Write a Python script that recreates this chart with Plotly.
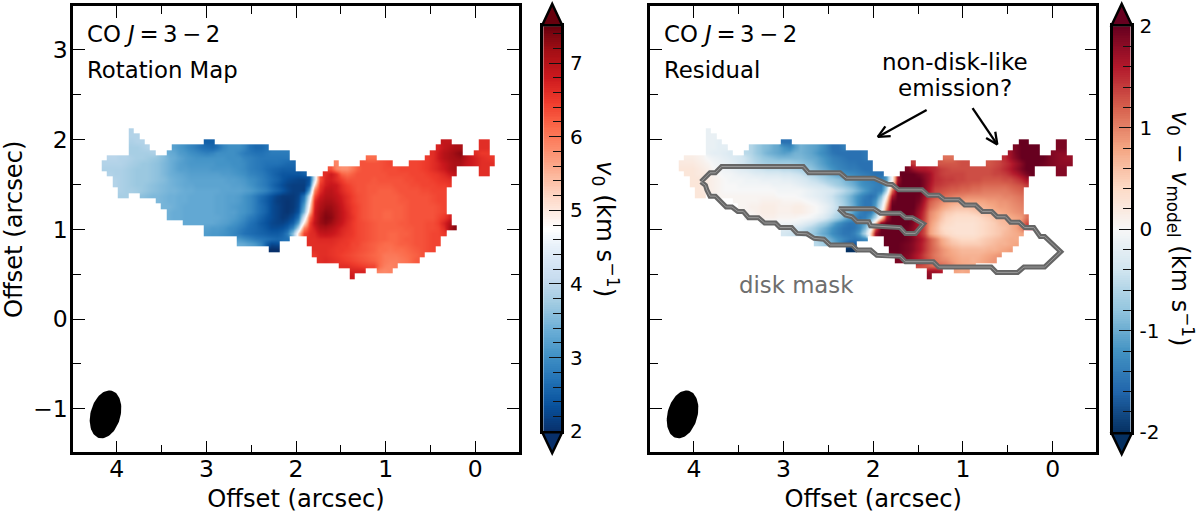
import math
import numpy as np
import plotly.graph_objects as go

# --- Data ------------------------------------------------------------------
# Each entry: (row, first column, values). Rows run top to bottom, columns left to right.
V0_SEGMENTS = [
 (0,5,[3.9]),
 (1,5,[3.9,3.9]),
 (2,5,[3.85,3.9,3.9]),(2,19,[2.5,2.5]),(2,63,[6.9,6.9]),(2,70,[6.6,6.6]),
 (3,5,[3.8,3.8,3.85,3.9]),(3,13,[3.2,3.1,3.0,2.9,2.8,2.7,2.65,2.6,2.7,2.9,3.0,3.0,3.0,2.9,2.7,2.6,2.6,2.7]),(3,62,[6.7,6.9,7.0,7.1,7.1]),(3,70,[6.6,6.6]),
 (4,5,[3.8,3.8,3.8,3.8,3.85]),(4,12,[3.35,3.3,3.15,3.1,3.0,2.95,2.9,2.85,2.9,3.0,3.0,3.0,3.0,2.9,2.8,2.75,2.7,2.7,2.75,2.8,2.8,2.8,2.8]),(4,61,[6.6,6.8,7.0,7.1,7.2,7.3]),(4,69,[6.6,6.5,6.5]),
 (5,1,[3.95,3.95,3.9,3.9,3.85,3.8,3.8,3.75,3.7,3.65,3.55,3.4,3.35,3.25,3.15,3.1,3.05,3.05,3.05,3.05,3.05,3.05,3.0,3.0,3.0,2.9,2.85,2.8,2.75,2.75,2.75,2.75,2.75,2.75]),(5,49,[6.1,6.1]),(5,60,[6.5,6.6,6.8,7.0,7.1,7.15,7.2,7.0,6.8,6.7,6.6,6.55,6.5]),
 (6,0,[3.9,3.9,3.9,3.9,3.85,3.8,3.75,3.7,3.7,3.65,3.6,3.5,3.4,3.3,3.2,3.15,3.1,3.1,3.1,3.1,3.1,3.05,3.05,3.05,3.0,3.0,2.95,2.85,2.8,2.75,2.7,2.7,2.7,2.65,2.6,2.6]),(6,43,[5.9]),(6,48,[6.3,6.3,6.3,6.3,6.35,6.4]),(6,57,[6.4,6.4,6.45,6.5,6.6,6.7,6.85,7.0,7.1,7.1,6.9,6.8,6.7,6.6,6.6,6.6]),
 (7,0,[3.85,3.85,3.85,3.85,3.8,3.75,3.7,3.7,3.7,3.65,3.6,3.5,3.4,3.3,3.2,3.2,3.15,3.15,3.15,3.15,3.1,3.1,3.1,3.1,3.05,3.0,2.95,2.85,2.8,2.75,2.65,2.6,2.55,2.5,2.5,2.5]),(7,42,[6.3,5.9,5.8,5.8,6.0,6.2,6.3,6.3,6.3,6.3,6.35,6.35,6.35,6.4,6.4,6.4,6.4,6.45,6.5,6.6,6.7,6.8,7.0,7.1]),(7,70,[6.6,6.6]),
 (8,1,[3.9,3.85,3.85,3.8,3.75,3.7,3.7,3.7,3.65,3.6,3.5,3.4,3.35,3.3,3.25,3.2,3.2,3.2,3.2,3.2,3.2,3.15,3.15,3.1,3.05,3.0,2.9,2.85,2.8,2.7,2.6,2.5,2.4,2.4,2.4,2.4,2.5]),(8,41,[6.6,6.8,6.6,6.2,6.1,6.2,6.3,6.3,6.3,6.3,6.3,6.3,6.35,6.35,6.35,6.35,6.4,6.4,6.4,6.45,6.5,6.55,6.65,6.8,6.9]),(8,70,[6.6,6.6]),
 (9,2,[3.9,3.85,3.8,3.75,3.7,3.7,3.7,3.65,3.6,3.55,3.45,3.4,3.35,3.3,3.25,3.25,3.25,3.25,3.25,3.25,3.25,3.2,3.2,3.15,3.1,3.0,2.95,2.85,2.75,2.65,2.55,2.4,2.3,2.25,2.2,2.2,2.35,4.2,6.3,6.7,6.75,6.6,6.45,6.3,6.3,6.3,6.3,6.3,6.25,6.3,6.3,6.3,6.3,6.3,6.35,6.35,6.4,6.4,6.4,6.45,6.5,6.55,6.6]),
 (10,2,[3.9,3.85,3.8,3.75,3.7,3.7,3.65,3.6,3.55,3.5,3.45,3.4,3.35,3.3,3.3,3.25,3.25,3.25,3.25,3.25,3.25,3.25,3.2,3.2,3.15,3.05,2.95,2.85,2.75,2.6,2.45,2.3,2.2,2.15,2.15,2.15,2.5,5.0,6.5,6.75,6.85,6.8,6.6,6.45,6.35,6.3,6.3,6.25,6.25,6.25,6.25,6.25,6.3,6.3,6.3,6.35,6.35,6.4,6.4,6.4,6.45,6.45,6.5]),
 (11,3,[3.85,3.8,3.8,3.75,3.7,3.65,3.6,3.55,3.5,3.45,3.45,3.4,3.35,3.35,3.3,3.3,3.3,3.3,3.3,3.25,3.25,3.25,3.25,3.2,3.15,3.05,2.95,2.85,2.7,2.55,2.4,2.25,2.15,2.15,2.15,3.2,5.9,6.6,6.9,6.95,6.8,6.65,6.5,6.4,6.3,6.3,6.25,6.25,6.2,6.2,6.2,6.25,6.3,6.3,6.3,6.3,6.35,6.35,6.4,6.4,6.4]),
 (12,3,[3.8,3.8]),(12,7,[3.6,3.55,3.5,3.5,3.45,3.4,3.4,3.35,3.35,3.3,3.3,3.3,3.3,3.3,3.25,3.25,3.2,3.2,3.15,3.05,2.95,2.8,2.65,2.5,2.35,2.2,2.1,2.1,2.1,2.2,2.7,4.2,6.3,6.8,7.0,7.0,6.9,6.75,6.6,6.45,6.35,6.3,6.25,6.2,6.2,6.2,6.2,6.2,6.25,6.3,6.3,6.3,6.3,6.3,6.35,6.4,6.4]),
 (13,10,[3.5,3.45,3.4,3.4,3.35,3.35,3.3,3.3,3.3,3.3,3.3,3.25,3.25,3.2,3.2,3.15,3.05,2.95,2.8,2.6,2.45,2.3,2.15,2.1,2.05,2.1,2.25,2.9,4.6,6.6,6.95,7.1,7.1,6.95,6.8,6.6,6.45,6.35,6.3,6.25,6.2,6.2,6.2,6.2,6.2,6.25,6.25,6.3,6.3,6.3,6.3,6.35,6.4,6.4]),
 (14,11,[3.45,3.45,3.4,3.35,3.3,3.3,3.3,3.3,3.3,3.3,3.25,3.25,3.2,3.15,3.1,3.05,2.95,2.8,2.65,2.5,2.3,2.2,2.1,2.05,2.1,2.3,3.2,5.0,6.7,7.05,7.2,7.2,7.05,6.85,6.65,6.5,6.4,6.3,6.25,6.2,6.2,6.2,6.2,6.2,6.2,6.25,6.3,6.3,6.3,6.3,6.3,6.35,6.4]),
 (15,12,[3.4,3.35,3.35,3.3,3.3,3.3,3.3,3.3,3.3,3.25,3.25,3.2,3.2,3.1,3.05,2.95,2.8,2.65,2.5,2.3,2.2,2.1,2.05,2.15,2.4,3.5,5.4,6.8,7.15,7.3,7.25,7.1,6.9,6.7,6.5,6.4,6.3,6.25,6.2,6.2,6.15,6.15,6.2,6.2,6.25,6.3,6.3,6.3,6.3,6.3,6.35,6.4]),
 (16,12,[3.4,3.35,3.35,3.3,3.3,3.3,3.3,3.3,3.3,3.3,3.25,3.2,3.15,3.05,2.95,2.8,2.7,2.55,2.4,2.3,2.2,2.1,2.15,2.3,2.7,4.3,6.1,6.8,7.2,7.35,7.3,7.1,6.9,6.7,6.55,6.4,6.3,6.25,6.2,6.2,6.15,6.15,6.2,6.2,6.25,6.3,6.3,6.3,6.3,6.3,6.4,6.5,6.7]),
 (17,15,[3.3,3.3,3.3,3.3,3.3,3.3,3.25,3.2,3.15,3.05,2.95,2.85,2.7,2.6,2.45,2.35,2.25,2.2,2.2,2.3,2.5,3.2,5.0,6.4,6.9,7.2,7.3,7.2,7.0,6.85,6.65,6.5,6.4,6.35,6.3,6.25,6.2,6.2,6.2,6.2,6.25,6.25,6.3,6.3,6.3,6.35,6.35,6.45,6.7,7.0]),
 (18,19,[3.2,3.15,3.15,3.1,3.0,2.95,2.85,2.75,2.65,2.6,2.5,2.4,2.3,2.3,2.35,2.5,2.9,4.0,5.9,6.5,6.75,7.05,7.1,7.0,6.85,6.7,6.6,6.5,6.4,6.35,6.3,6.25,6.2,6.2,6.2,6.2,6.2,6.25,6.25,6.3,6.3,6.35,6.35,6.4,6.6,7.1,7.3]),
 (19,19,[3.15,3.1,3.1,3.05,3.0,2.9,2.8,2.7,2.65,2.6,2.55,2.5,2.45,2.45,2.55,2.8,3.6,5.2,6.4,6.6,6.65,6.85,6.9,6.85,6.75,6.65,6.55,6.5,6.4,6.35,6.3,6.25,6.2,6.2,6.15,6.15,6.2,6.2,6.25,6.3,6.3,6.35,6.4,6.4,6.5]),
 (20,25,[3.1,3.0,2.9,2.8,2.75,2.7,2.65,2.6,2.65,2.7]),(20,38,[6.6,6.6,6.65,6.65,6.65,6.6,6.55,6.5,6.45,6.4,6.35,6.3,6.25,6.2,6.2,6.15,6.15,6.2,6.25,6.25,6.3,6.3,6.35,6.4,6.4]),
 (21,25,[3.35,3.3,3.2,3.1,2.9,2.5,2.25,2.3]),(21,38,[6.6,6.6,6.6,6.6,6.6,6.55,6.5,6.5,6.4,6.4,6.3,6.25,6.2,6.15,6.1,6.1,6.15,6.2,6.2,6.25,6.3,6.3,6.35,6.4,6.4]),
 (22,31,[2.0,2.0]),(22,39,[6.6,6.6,6.6,6.55,6.5,6.5,6.45,6.4,6.35,6.3,6.25,6.2,6.1,6.1,6.05,6.1,6.1,6.15,6.2,6.25,6.3,6.35,6.4]),
 (23,39,[6.5,6.6,6.6,6.55,6.5,6.45,6.4,6.35,6.3,6.25,6.2,6.15,6.1,6.0,6.0,6.0,6.05,6.1,6.15,6.2,6.3]),
 (24,40,[6.6,6.65,6.6,6.55,6.5,6.45,6.4,6.35,6.3,6.25,6.2,6.1,6.0,5.95,5.95,6.0,6.05,6.15,6.25]),
 (25,44,[6.6,6.6,6.55,6.5,6.45,6.4,6.4,6.1,5.95,5.9,5.95]),
 (26,46,[6.7,6.7,6.7]),(26,51,[5.9,5.85,5.9]),
 (27,46,[6.8]),
]

RES_SEGMENTS = [
 (0,5,[-0.15]),
 (1,5,[-0.15,-0.15]),
 (2,5,[-0.15,-0.15,-0.2]),(2,19,[-1.5,-1.5]),(2,63,[2,2]),(2,70,[1.9,1.9]),
 (3,5,[-0.15,-0.15,-0.2,-0.2]),(3,13,[-0.6,-0.75,-0.85,-0.9,-1.0,-1.05,-1.2,-1.3,-1.1,-0.95,-1.0,-1.05,-1.1,-1.2,-1.35,-1.5,-1.5,-1.4]),(3,62,[1.9,2,2,2,2]),(3,70,[1.9,1.9]),
 (4,5,[-0.15,-0.2,-0.2,-0.25,-0.3]),(4,12,[-0.55,-0.6,-0.75,-0.85,-0.95,-1.0,-1.05,-1.1,-1.05,-0.95,-0.95,-1.0,-1.05,-1.15,-1.25,-1.35,-1.45,-1.5,-1.5,-1.5,-1.5,-1.5,-1.45]),(4,61,[1.7,1.9,2,2,2,2]),(4,69,[1.85,1.8,1.8]),
 (5,1,[0.15,0.15,0.1,0.05,-0.05,-0.1,-0.15,-0.2,-0.25,-0.3,-0.35,-0.45,-0.55,-0.65,-0.75,-0.8,-0.85,-0.9,-0.9,-0.9,-0.9,-0.9,-0.95,-1.0,-1.05,-1.15,-1.25,-1.35,-1.4,-1.45,-1.5,-1.5,-1.5,-1.45]),(5,49,[1.1,1.1]),(5,60,[1.5,1.7,1.85,2,2,2,2,2,1.9,1.85,1.8,1.75,1.75]),
 (6,0,[0.2,0.2,0.2,0.15,0.1,0.05,-0.05,-0.1,-0.15,-0.2,-0.25,-0.35,-0.45,-0.5,-0.6,-0.65,-0.7,-0.7,-0.7,-0.7,-0.7,-0.75,-0.8,-0.85,-0.9,-1.0,-1.1,-1.2,-1.3,-1.35,-1.4,-1.45,-1.45,-1.5,-1.5,-1.5]),(6,43,[1.4]),(6,48,[1.25,1.25,1.25,1.25,1.3,1.3]),(6,57,[1.25,1.3,1.35,1.45,1.55,1.7,1.85,2,2,2,1.95,1.9,1.85,1.8,1.8,1.8]),
 (7,0,[0.25,0.25,0.25,0.2,0.15,0.1,0.0,-0.05,-0.1,-0.15,-0.2,-0.25,-0.3,-0.35,-0.4,-0.45,-0.5,-0.5,-0.5,-0.55,-0.55,-0.6,-0.65,-0.7,-0.8,-0.9,-1.0,-1.1,-1.2,-1.3,-1.35,-1.4,-1.4,-1.45,-1.5,-1.5]),(7,42,[1.9,1.7,1.6,1.6,1.55,1.5,1.4,1.35,1.3,1.3,1.3,1.3,1.3,1.3,1.3,1.3,1.35,1.4,1.5,1.6,1.75,1.9,2,2]),(7,70,[1.85,1.85]),
 (8,1,[0.25,0.25,0.2,0.2,0.15,0.05,0.0,-0.05,-0.05,-0.1,-0.15,-0.15,-0.2,-0.25,-0.25,-0.3,-0.3,-0.3,-0.35,-0.35,-0.4,-0.45,-0.55,-0.6,-0.7,-0.8,-0.9,-1.0,-1.1,-1.2,-1.25,-1.3,-1.35,-1.4,-1.45,-1.5,-1.5]),(8,41,[2,2,2,1.9,1.8,1.7,1.5,1.4,1.35,1.35,1.35,1.35,1.3,1.3,1.3,1.3,1.3,1.35,1.35,1.4,1.5,1.6,1.75,1.9,2]),(8,70,[1.85,1.85]),
 (9,2,[0.25,0.25,0.2,0.15,0.1,0.05,0.0,-0.05,-0.05,-0.05,-0.1,-0.1,-0.1,-0.15,-0.15,-0.15,-0.15,-0.2,-0.2,-0.25,-0.3,-0.35,-0.45,-0.5,-0.6,-0.7,-0.75,-0.8,-0.9,-1.0,-1.1,-1.2,-1.3,-1.35,-1.4,-1.4,-1.1,0.0,1.7,2,2,2,2,1.85,1.7,1.5,1.45,1.4,1.4,1.35,1.35,1.3,1.3,1.3,1.25,1.25,1.25,1.25,1.3,1.3,1.4,1.5,1.65]),
 (10,2,[0.25,0.25,0.2,0.15,0.1,0.05,0.0,0.0,0.0,-0.05,-0.05,-0.05,-0.05,-0.05,-0.05,-0.1,-0.1,-0.1,-0.1,-0.15,-0.2,-0.25,-0.3,-0.35,-0.4,-0.5,-0.6,-0.7,-0.8,-0.9,-1.0,-1.15,-1.25,-1.3,-1.35,-1.4,-0.9,0.4,1.9,2,2,2,2,1.85,1.65,1.45,1.4,1.35,1.3,1.3,1.25,1.25,1.2,1.2,1.15,1.15,1.15,1.15,1.15,1.2,1.25,1.3,1.4]),
 (11,3,[0.25,0.2,0.15,0.1,0.05,0.0,0.0,0.0,0.0,0.0,0.0,0.0,0.0,0.0,0.0,-0.05,-0.05,-0.05,-0.05,-0.05,-0.1,-0.15,-0.2,-0.25,-0.3,-0.35,-0.45,-0.55,-0.7,-0.85,-1.0,-1.15,-1.3,-1.4,-1.35,-0.6,1.1,2,2,2,2,2,1.8,1.6,1.35,1.3,1.25,1.2,1.2,1.15,1.15,1.1,1.1,1.05,1.05,1.05,1.05,1.05,1.1,1.15,1.2]),
 (12,3,[0.25,0.25]),(12,7,[0.05,0.05,0.05,0.05,0.05,0.05,0.05,0.05,0.05,0.05,0.05,0.0,0.0,0.0,0.0,-0.05,-0.1,-0.15,-0.2,-0.25,-0.35,-0.45,-0.6,-0.75,-0.9,-1.1,-1.25,-1.4,-1.5,-1.4,-0.9,0.1,1.6,2,2,2,2,1.95,1.7,1.45,1.3,1.2,1.1,1.05,1.0,1.0,0.95,0.95,0.95,0.95,0.95,0.95,0.95,1.0,1.0,1.05,1.1]),
 (13,10,[0.05,0.05,0.05,0.05,0.05,0.1,0.1,0.1,0.1,0.05,0.05,0.05,0.05,0.0,-0.05,-0.1,-0.2,-0.3,-0.4,-0.55,-0.7,-0.9,-1.1,-1.3,-1.45,-1.45,-1.2,-0.6,0.5,1.9,2,2,2,2,1.9,1.6,1.25,1.1,1.0,0.9,0.85,0.8,0.8,0.8,0.8,0.8,0.8,0.85,0.85,0.9,0.9,0.95,1.0,1.05]),
 (14,11,[0.05,0.05,0.1,0.1,0.15,0.15,0.15,0.1,0.1,0.1,0.15,0.15,0.1,0.05,0.0,-0.1,-0.2,-0.35,-0.5,-0.65,-0.85,-1.05,-1.3,-1.45,-1.45,-1.1,-0.4,0.9,2,2,2,2,2,1.8,1.5,1.15,1.0,0.85,0.75,0.65,0.6,0.6,0.6,0.65,0.7,0.7,0.75,0.8,0.85,0.85,0.9,0.95,1.0]),
 (15,12,[0.05,0.05,0.1,0.15,0.15,0.15,0.1,0.1,0.1,0.15,0.15,0.1,0.05,0.0,-0.1,-0.25,-0.4,-0.55,-0.7,-0.9,-1.15,-1.35,-1.45,-1.4,-1.0,-0.2,1.3,2,2,2,2,1.95,1.7,1.4,1.0,0.85,0.7,0.55,0.5,0.45,0.45,0.45,0.5,0.55,0.6,0.65,0.7,0.75,0.8,0.85,0.9,0.95]),
 (16,12,[0.0,0.0,0.05,0.1,0.1,0.1,0.05,0.05,0.05,0.05,0.0,0.0,-0.05,-0.15,-0.25,-0.4,-0.55,-0.7,-0.9,-1.1,-1.3,-1.45,-1.4,-1.1,-0.6,0.3,1.6,2,2,2,2,1.9,1.65,1.35,0.95,0.8,0.6,0.45,0.4,0.35,0.35,0.35,0.35,0.4,0.45,0.5,0.6,0.65,0.7,0.75,0.8,0.85,1.1]),
 (17,15,[-0.05,-0.05,-0.05,-0.05,-0.05,-0.05,-0.1,-0.15,-0.25,-0.35,-0.5,-0.65,-0.8,-1.0,-1.2,-1.35,-1.45,-1.45,-1.3,-1.1,-0.6,0.5,1.8,2,2,2,2,2,1.85,1.6,1.3,0.9,0.7,0.5,0.4,0.35,0.3,0.3,0.3,0.3,0.35,0.4,0.45,0.5,0.6,0.65,0.7,0.8,1.0,1.3]),
 (18,19,[-0.25,-0.3,-0.35,-0.4,-0.5,-0.6,-0.75,-0.9,-1.05,-1.2,-1.35,-1.45,-1.5,-1.45,-1.3,-0.9,-0.1,1.2,1.95,2,2,2,2,1.95,1.8,1.6,1.3,0.85,0.65,0.45,0.35,0.3,0.3,0.3,0.3,0.3,0.35,0.4,0.45,0.5,0.55,0.6,0.7,0.8,1.0,1.5,1.8]),
 (19,19,[-0.35,-0.4,-0.45,-0.5,-0.6,-0.7,-0.85,-1.0,-1.1,-1.25,-1.35,-1.45,-1.45,-1.35,-1.1,-0.6,0.4,1.7,2,2,2,2,2,1.9,1.75,1.55,1.3,0.85,0.65,0.5,0.4,0.35,0.3,0.3,0.3,0.3,0.35,0.4,0.45,0.5,0.55,0.65,0.7,0.75,0.8]),
 (20,25,[-0.6,-0.75,-0.9,-1.05,-1.2,-1.3,-1.4,-1.45,-1.4,-1.3]),(20,38,[2,2,2,2,1.95,1.85,1.7,1.5,1.25,1.05,0.8,0.65,0.5,0.45,0.4,0.4,0.4,0.45,0.5,0.55,0.6,0.65,0.7,0.75,0.75]),
 (21,25,[-0.55,-0.65,-0.8,-0.95,-1.15,-1.5,-1.75,-1.7]),(21,38,[2,2,2,1.95,1.9,1.8,1.65,1.45,1.25,1.05,0.85,0.7,0.6,0.55,0.5,0.5,0.5,0.5,0.55,0.6,0.65,0.7,0.7,0.75,0.8]),
 (22,31,[-2,-2]),(22,39,[2,2,1.95,1.9,1.8,1.65,1.45,1.25,1.1,0.95,0.85,0.75,0.7,0.65,0.65,0.65,0.65,0.65,0.7,0.7,0.75,0.8,0.85]),
 (23,39,[1.9,1.95,1.9,1.85,1.7,1.55,1.35,1.2,1.05,0.95,0.85,0.8,0.75,0.7,0.7,0.7,0.7,0.75,0.8,0.85,0.9]),
 (24,40,[1.9,1.85,1.8,1.7,1.55,1.4,1.25,1.1,1.0,0.95,0.85,0.8,0.75,0.75,0.7,0.75,0.8,0.85,0.9]),
 (25,44,[1.3,1.25,1.15,1.1,1.2,1.1,1.0,0.85,0.8,0.75,0.75]),
 (26,46,[1.7,1.7,1.6]),(26,51,[0.8,0.75,0.8]),
 (27,46,[1.8]),
]

MASK_X = [3.92,3.82,3.76,3.69,2.78,2.72,2.37,2.30,1.99,1.845,1.79,1.715,1.455,1.39,1.27,1.205,1.045,0.98,0.86,0.785,0.68,0.62,0.525,0.47,0.375,0.31,0.21,0.14,0.09,-0.09,0.09,0.32,0.39,0.625,0.685,1.27,1.33,1.64,1.70,1.83,1.96,2.03,2.18,2.235,2.48,2.55,2.66,2.74,2.85,2.91,3.04,3.09,3.21,3.28,3.39,3.45,3.51,3.575,3.64,3.76,3.82,3.855,3.87,3.92]
MASK_Y = [1.53,1.63,1.63,1.70,1.70,1.63,1.63,1.57,1.57,1.504,1.50,1.44,1.44,1.38,1.38,1.33,1.33,1.27,1.27,1.20,1.20,1.14,1.14,1.08,1.08,1.02,1.02,0.92,0.92,0.75,0.58,0.58,0.52,0.52,0.58,0.58,0.64,0.64,0.70,0.70,0.71,0.77,0.77,0.825,0.825,0.89,0.90,0.95,0.955,1.02,1.02,1.07,1.07,1.13,1.13,1.20,1.20,1.25,1.25,1.37,1.37,1.44,1.49,1.53]
INNER_X = [2.385,1.995,1.92,1.70,1.64,1.565,1.44,1.53,1.64,1.70,2.03,2.05,2.18,2.235,2.31,2.385]
INNER_Y = [1.23,1.23,1.18,1.18,1.13,1.13,1.06,0.955,0.955,1.02,1.04,1.085,1.085,1.14,1.16,1.23]

V0_TICKS = [2, 3, 4, 5, 6, 7]
RES_TICKS = [-2, -1, 0, 1, 2]
RES_TICK_TEXT = ["-2", "-1", "0", "1", "2"]

# --- Grid and style ---------------------------------------------------------
NROWS, NCOLS = 28, 73
GRID_X0, GRID_DX = 4.138, -0.0601
GRID_Y0, GRID_DY = 2.096, -0.06

def grid(segments):
    z = [[None] * NCOLS for _ in range(NROWS)]
    for r, c0, vals in segments:
        for i, v in enumerate(vals):
            if c0 + i < NCOLS:
                z[r][c0 + i] = v
    return z

BLUES_REDS = [[0,"#08306b"],[.0625,"#08519c"],[.125,"#2171b5"],[.1875,"#4292c6"],[.25,"#6baed6"],[.3125,"#9ecae1"],[.375,"#c6dbef"],[.4375,"#deebf7"],[.5,"#ffffff"],
              [.5625,"#fee0d2"],[.625,"#fcbba1"],[.6875,"#fc9272"],[.75,"#fb6a4a"],[.8125,"#ef3b2c"],[.875,"#cb181d"],[.9375,"#a50f15"],[1,"#67000d"]]
RDBU = [[0,"#053061"],[.1,"#2166ac"],[.2,"#4393c3"],[.3,"#92c5de"],[.4,"#d1e5f0"],[.5,"#f7f7f7"],[.6,"#fddbc7"],[.7,"#f4a582"],[.8,"#d6604d"],[.9,"#b2182b"],[1,"#67001f"]]

W, H = 1200, 513
FONT = "DejaVu Sans"
LW = 2.5
def fx(p): return p / W
def fy(p): return 1 - p / H

fig = go.Figure()
common = dict(x0=GRID_X0, dx=GRID_DX, y0=GRID_Y0, dy=GRID_DY, showscale=False, hoverinfo="skip", zsmooth="best")
fig.add_trace(go.Heatmap(z=grid(V0_SEGMENTS), zmin=2, zmax=7.5, colorscale=BLUES_REDS, xaxis="x", yaxis="y", **common))
fig.add_trace(go.Heatmap(z=grid(RES_SEGMENTS), zmin=-2, zmax=2, colorscale=RDBU, xaxis="x2", yaxis="y2", **common))

# mask outline: a wide grey line with a paler core
for xs, ys in ((MASK_X, MASK_Y), (INNER_X, INNER_Y)):
    for color, width in (("#666666", 5), ("#9a9a9a", 1)):
        fig.add_trace(go.Scatter(x=xs, y=ys, mode="lines", line=dict(color=color, width=width), xaxis="x2", yaxis="y2", hoverinfo="skip", showlegend=False))

# beam ellipses
t = np.linspace(0, 2 * np.pi, 90)
BEAM_X0, BEAM_Y0, BEAM_A, BEAM_B, BEAM_TILT = 4.126, -1.062, 0.273, 0.167, math.radians(15)
bx = BEAM_X0 - (BEAM_A * np.cos(t) * math.sin(BEAM_TILT) + BEAM_B * np.sin(t) * math.cos(BEAM_TILT))
by = BEAM_Y0 + BEAM_A * np.cos(t) * math.cos(BEAM_TILT) - BEAM_B * np.sin(t) * math.sin(BEAM_TILT)
for xa, ya in (("x", "y"), ("x2", "y2")):
    fig.add_trace(go.Scatter(x=bx, y=by, mode="lines", fill="toself", fillcolor="black", line=dict(color="black", width=0), xaxis=xa, yaxis=ya, hoverinfo="skip", showlegend=False))

# colourbars
lv0 = np.linspace(2, 7.5, 221)
lres = np.linspace(-2, 2, 221)
fig.add_trace(go.Heatmap(z=[[v] for v in lv0], x=[0], y=lv0, zmin=2, zmax=7.5, colorscale=BLUES_REDS, showscale=False, hoverinfo="skip", xaxis="x3", yaxis="y3"))
fig.add_trace(go.Heatmap(z=[[v] for v in lres], x=[0], y=lres, zmin=-2, zmax=2, colorscale=RDBU, showscale=False, hoverinfo="skip", xaxis="x4", yaxis="y4"))

tick = dict(family=FONT, size=23.5, color="black")
axis_title = dict(family=FONT, size=24.2, color="black")
cbtick = dict(family=FONT, size=20, color="black")
def main_x(dom, anchor):
    return dict(domain=[fx(dom[0] + LW/2), fx(dom[1] - LW/2)], range=[4.5 - LW/2/89.6, -0.5 + LW/2/89.6], anchor=anchor, tickmode="array",
                tickvals=[0, 1, 2, 3, 4], ticks="inside", ticklen=12, tickwidth=1.2, tickcolor="black",
                minor=dict(tickvals=[0.5, 1.5, 2.5, 3.5], ticks="inside", ticklen=8, tickwidth=1.2, tickcolor="black"),
                showline=True, linewidth=LW, linecolor="black", mirror="ticks", showgrid=False, zeroline=False, tickfont=tick, ticklabelstandoff=-6,
                title=dict(text="Offset (arcsec)", font=axis_title, standoff=11), automargin=False)
def main_y(anchor, labels):
    d = dict(domain=[fy(453.7 - LW/2), fy(5 + LW/2)], range=[-1.5 + LW/2/89.74, 3.5 - LW/2/89.74], anchor=anchor, tickmode="array",
             tickvals=[-1, 0, 1, 2, 3], ticks="inside", ticklen=12, tickwidth=1.2, tickcolor="black",
             minor=dict(tickvals=[-0.5, 0.5, 1.5, 2.5], ticks="inside", ticklen=8, tickwidth=1.2, tickcolor="black"),
             showline=True, linewidth=LW, linecolor="black", mirror="ticks", showgrid=False, zeroline=False, tickfont=tick,
             showticklabels=labels, ticklabelstandoff=-2, automargin=False)
    if labels:
        d["title"] = dict(text="Offset (arcsec)", font=axis_title, standoff=9)
    return d
def cb_x(x0, x1, anchor):
    return dict(domain=[fx(x0), fx(x1)], anchor=anchor, showticklabels=False, ticks="", showline=True, linewidth=LW, linecolor="black", mirror=True, showgrid=False, zeroline=False, range=[-0.5, 0.5])
def cb_y(x_pos_anchor, y0, y1, rng, vals, text, minor_step):
    return dict(domain=[fy(y0), fy(y1)], anchor=x_pos_anchor, side="right", range=rng, tickmode="array", tickvals=vals, ticktext=text,
                ticks="inside", ticklen=12, tickwidth=1.4, tickcolor="#111111",
                minor=dict(dtick=minor_step, tick0=vals[0], ticks="inside", ticklen=8, tickwidth=1.4, tickcolor="#111111"),
                showline=True, linewidth=LW, linecolor="black", mirror=True, showgrid=False, zeroline=False, tickfont=cbtick, ticklabelstandoff=2, automargin=False)

shapes = []
# extension tips of the colourbars
for x0, x1, top, bot, ctop, cbot in ((543.2, 561.2, 26.2, 431.2, "#67000d", "#08306b"), (1112.6, 1130.8, 26.2, 432.2, "#67001f", "#053061")):
    xm = (x0 + x1) / 2
    shapes.append(dict(type="path", xref="paper", yref="paper", fillcolor=ctop, line=dict(color="black", width=LW),
                       path=f"M{fx(x0-1)},{fy(top-1)} L{fx(xm)},{fy(4)} L{fx(x1+1)},{fy(top-1)} Z"))
    shapes.append(dict(type="path", xref="paper", yref="paper", fillcolor=cbot, line=dict(color="black", width=LW),
                       path=f"M{fx(x0-1)},{fy(bot+1)} L{fx(xm)},{fy(bot+22)} L{fx(x1+1)},{fy(bot+1)} Z"))

# open-headed arrows of the residual panel
ARROWS = [((1.95, 2.03), (1.405, 2.33)), ((0.617, 1.945), (0.893, 2.35))]
for (tx, ty), (sx, sy) in ARROWS:
    shapes.append(dict(type="line", xref="x2", yref="y2", x0=sx, y0=sy, x1=tx, y1=ty, line=dict(color="black", width=2.3)))
    ang = math.atan2(sy - ty, sx - tx)
    for d in (-0.44, 0.44):
        shapes.append(dict(type="line", xref="x2", yref="y2", x0=tx, y0=ty, x1=tx + 0.145 * math.cos(ang + d), y1=ty + 0.145 * math.sin(ang + d), line=dict(color="black", width=2.3)))

def note(text, x, y, xr, yr, size=22.8, color="black", anchor="left", angle=0):
    return dict(text=text, x=x, y=y, xref=xr, yref=yr, showarrow=False, xanchor=anchor, yanchor="middle", textangle=angle,
                font=dict(family=FONT, size=size, color=color), align="center")

CO_LABEL = "CO <i>J</i>\u2009=\u20093\u2009−\u20092"
LABEL_X = 4.36
annotations = [
    note(CO_LABEL, LABEL_X, 3.18, "x", "y"),
    note("Rotation Map", LABEL_X, 2.775, "x", "y"),
    note(CO_LABEL, LABEL_X, 3.18, "x2", "y2"),
    note("Residual", LABEL_X, 2.775, "x2", "y2"),
    note("non-disk-like", 1.085, 2.865, "x2", "y2", size=23, anchor="center"),
    note("emission?", 1.085, 2.575, "x2", "y2", size=23, anchor="center"),
    note("disk mask", 2.86, 0.38, "x2", "y2", color="#6e6e6e", anchor="center"),
    note("<i>v</i><sub>0</sub> (km s<sup>−1</sup>)", fx(606), fy(229), "paper", "paper", size=24.5, anchor="center", angle=90),
    note("<i>v</i><sub>0</sub> − <i>v</i><sub>model</sub> (km s<sup>−1</sup>)", fx(1181), fy(228), "paper", "paper", size=24, anchor="center", angle=90),
]

fig.update_layout(
    width=W, height=H, margin=dict(l=0, r=0, t=0, b=0), paper_bgcolor="white", plot_bgcolor="white", showlegend=False,
    font=dict(family=FONT, size=20, color="black"),
    xaxis=main_x((72, 520), "y"), yaxis=main_y("x", True),
    xaxis2=main_x((649, 1097.5), "y2"), yaxis2=main_y("x2", False),
    xaxis3=cb_x(543.2, 561.2, "y3"), yaxis3=cb_y("x3", 431.2, 26.2, [2, 7.5], V0_TICKS, [str(v) for v in V0_TICKS], 0.2),
    xaxis4=cb_x(1112.6, 1130.8, "y4"), yaxis4=cb_y("x4", 432.2, 26.2, [-2, 2], RES_TICKS, RES_TICK_TEXT, 0.2),
    shapes=shapes, annotations=annotations,
)

fig.write_html("out.html", config={"displayModeBar": False}, post_script="document.body.style.margin='0';document.body.style.overflow='hidden';")
